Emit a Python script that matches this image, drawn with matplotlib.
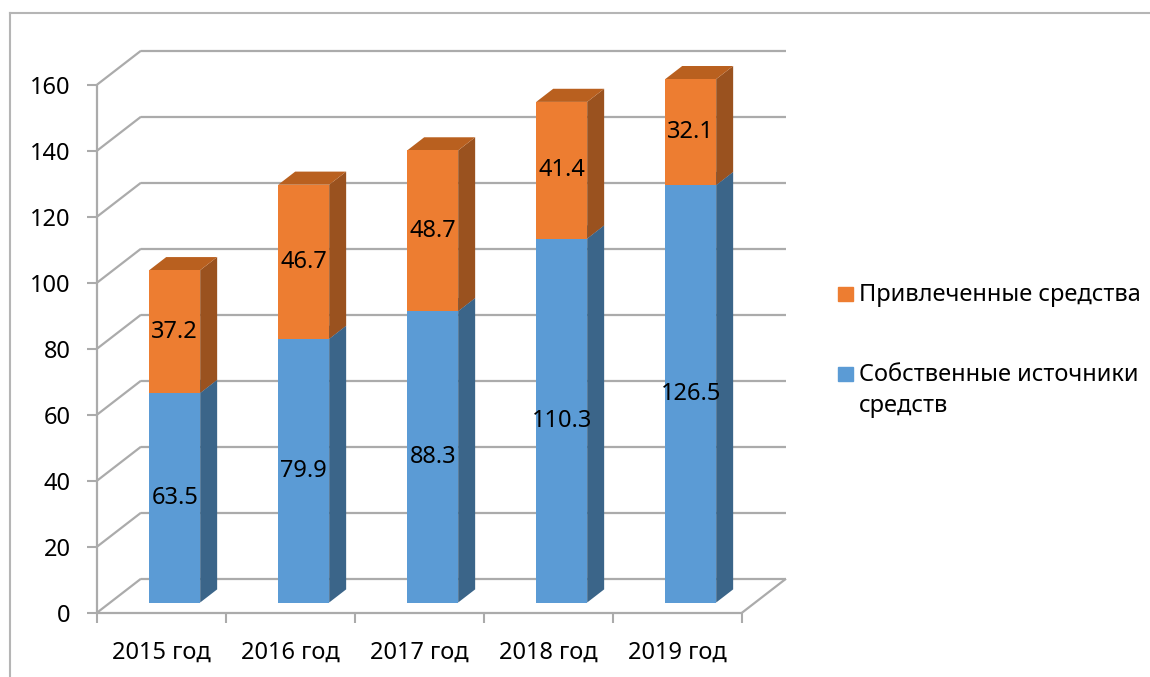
import matplotlib.pyplot as plt
from matplotlib.lines import Line2D
from matplotlib.patches import Rectangle

plt.rcParams['font.family'] = ['Noto Sans', 'DejaVu Sans']

# Data
years = ["2015 год", "2016 год", "2017 год", "2018 год", "2019 год"]
own_funds = [63.5, 79.9, 88.3, 110.3, 126.5]
borrowed = [37.2, 46.7, 48.7, 41.4, 32.1]
series_names = ["Привлеченные средства", "Собственные источники\nсредств"]
y_ticks = [0, 20, 40, 60, 80, 100, 120, 140, 160]

# Colours: front, side, top
BLUE = ("#5B9BD5", "#3B6589", "#4A80B3")
ORANGE = ("#ED7D31", "#9A521F", "#B9601F")
GRID = "#ABABAB"
FS = 17

# oblique "3d" offsets of the full depth, in data units
OX = 0.341
OY = 10.3
D0, D1 = 0.30, 0.686   # bar front / back depth (fraction)
BAR_W = 0.395

fig = plt.figure(figsize=(11.5, 6.77), dpi=100)
W, H = 1150, 677
ax = fig.add_axes([97 / W, (H - 612.7) / H, 645 / W, 528 / H])
ax.set_xlim(0, len(years))
ax.set_ylim(0, 160)
for s in ax.spines.values():
    s.set_visible(False)

# outer chart border (clipped by the picture on the right and bottom)
fig.add_artist(Line2D([10 / W, 10 / W], [0, 1 - 13 / H], color="#B5B5B5", lw=1.5))
fig.add_artist(Line2D([10 / W, 1], [1 - 13 / H, 1 - 13 / H], color="#B5B5B5", lw=1.5))

n = len(years)
kw = dict(color=GRID, lw=1.6, clip_on=False, solid_capstyle="butt", zorder=1)
for v in y_ticks:
    ax.plot([0, OX], [v, v + OY], **kw)
    ax.plot([OX, n + OX], [v + OY, v + OY], **kw)
ax.plot([0, n], [0, 0], **kw)
ax.plot([n, n + OX], [0, OY], **kw)
ax.plot([0, 0], [0, 160], **kw)


def box(x0, x1, y0, y1, colors, z):
    front, side, top = colors
    fx0, fx1 = x0 + D0 * OX, x1 + D0 * OX
    fy0, fy1 = y0 + D0 * OY, y1 + D0 * OY
    bx1 = x1 + D1 * OX
    by0, by1 = y0 + D1 * OY, y1 + D1 * OY
    bx0 = x0 + D1 * OX
    ax.fill([fx1, bx1, bx1, fx1], [fy0, by0, by1, fy1], color=side, lw=0, zorder=z, clip_on=False)
    ax.fill([fx0, fx1, bx1, bx0], [fy1, fy1, by1, by1], color=top, lw=0, zorder=z, clip_on=False)
    ax.fill([fx0, fx1, fx1, fx0], [fy0, fy0, fy1, fy1], color=front, lw=0, zorder=z + 0.1, clip_on=False)
    return (fx0 + fx1) / 2, (fy0 + fy1) / 2


for i in range(n):
    c = i + 0.5
    x0, x1 = c - BAR_W / 2, c + BAR_W / 2
    lx, ly = box(x0, x1, 0, own_funds[i], BLUE, 3)
    ax.text(lx, ly, f"{own_funds[i]:.1f}", ha="center", va="center", fontsize=FS, zorder=5)
    top = own_funds[i] + borrowed[i]
    lx, ly = box(x0, x1, own_funds[i], top, ORANGE, 4)
    ax.text(lx, ly, f"{borrowed[i]:.1f}", ha="center", va="center", fontsize=FS, zorder=5)

ax.set_yticks(y_ticks)
ax.set_yticklabels([str(v) for v in y_ticks], fontsize=FS)
ax.tick_params(axis="y", length=7, width=1.5, color=GRID, pad=12)
ax.set_xticks(range(n + 1))
ax.set_xticklabels([])
ax.set_xticks([i + 0.5 for i in range(n)], minor=True)
ax.set_xticklabels(years, minor=True, fontsize=FS)
ax.tick_params(axis="x", which="major", length=7, width=1.5, color=GRID)
ax.tick_params(axis="x", which="minor", length=0, pad=20)

# legend: square sits next to the first line of each label (Excel style)
legend_rows = [(ORANGE[0], 294), (BLUE[0], 374)]   # colour, square centre (px from top)
for (color, yc), name in zip(legend_rows, series_names):
    fig.add_artist(Rectangle((838 / W, 1 - (yc + 7) / H), 15 / W, 14 / H,
                             transform=fig.transFigure, color=color))
    fig.text(859 / W, 1 - (yc - 11) / H, name, fontsize=FS, ha="left", va="top",
             linespacing=1.4, transform=fig.transFigure)

fig.savefig("out.png", dpi=100)
